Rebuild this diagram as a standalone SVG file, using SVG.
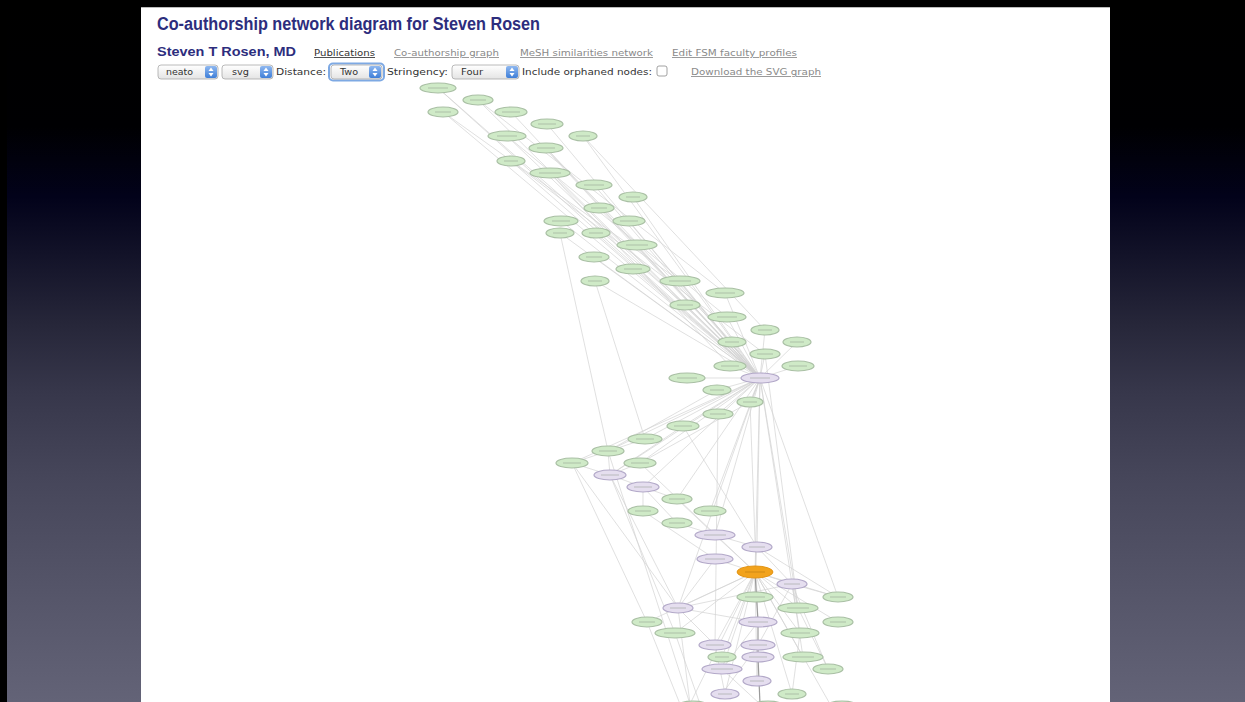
<svg xmlns="http://www.w3.org/2000/svg" width="1245" height="702" viewBox="0 0 1245 702">
<defs>
<linearGradient id="bg" x1="0" y1="0" x2="0" y2="1">
<stop offset="0" stop-color="#000000"/>
<stop offset="0.18" stop-color="#000002"/>
<stop offset="0.28" stop-color="#02021a"/>
<stop offset="0.36" stop-color="#121228"/>
<stop offset="0.46" stop-color="#262639"/>
<stop offset="0.56" stop-color="#37374b"/>
<stop offset="0.68" stop-color="#46465a"/>
<stop offset="0.82" stop-color="#535367"/>
<stop offset="1" stop-color="#636377"/>
</linearGradient>
<linearGradient id="sel" x1="0" y1="0" x2="0" y2="1">
<stop offset="0" stop-color="#ffffff"/>
<stop offset="1" stop-color="#e4e4e4"/>
</linearGradient>
<linearGradient id="step" x1="0" y1="0" x2="0" y2="1">
<stop offset="0" stop-color="#8fb8f0"/>
<stop offset="1" stop-color="#3f7fd8"/>
</linearGradient>
</defs>
<style>
.ttl{font-family:"Liberation Sans",Arial,sans-serif;font-weight:bold;fill:#2d2d7d}
.lnk{font-family:"DejaVu Sans",Verdana,sans-serif;font-size:8.5px;text-decoration:underline}
.ctl{font-family:"DejaVu Sans",Verdana,sans-serif;font-size:8.5px;fill:#333}
.box{fill:url(#sel);stroke:#a8a8a8;stroke-width:0.8}
.stp{fill:url(#step)}
.arw{fill:#ffffff}
.g ellipse{fill:#cfeac7;stroke:#a9bfa4;stroke-width:1.2}
.p ellipse{fill:#e5deef;stroke:#b2a8c8;stroke-width:1.2}
.o ellipse{fill:#f2a31c;stroke:#e39414;stroke-width:1}
.lb{stroke:#8f9a8c;stroke-width:1;opacity:0.5}
#edges line{stroke:#d2d2d2;stroke-width:0.7}
#edges line.dk{stroke:#9a9a9a;stroke-width:1.2}
</style>
<rect x="0" y="0" width="1245" height="702" fill="url(#bg)"/>
<rect x="0" y="0" width="7" height="702" fill="#000"/>
<rect x="0" y="0" width="1245" height="7" fill="#000"/>
<rect x="141" y="7" width="969" height="695" fill="#ffffff"/>
<line x1="141" y1="7.5" x2="1110" y2="7.5" stroke="#bbbbbb" stroke-width="1"/>

<g id="header">
<text class="ttl" x="157" y="30" font-size="17.5" textLength="383" lengthAdjust="spacingAndGlyphs">Co-authorship network diagram for Steven Rosen</text>
<text class="ttl" x="157" y="56" font-size="12.5" textLength="139" lengthAdjust="spacingAndGlyphs">Steven T Rosen, MD</text>
<text class="lnk" x="314" y="56" fill="#333" textLength="61" lengthAdjust="spacingAndGlyphs">Publications</text>
<text class="lnk" x="394" y="56" fill="#8a8a8a" textLength="105" lengthAdjust="spacingAndGlyphs">Co-authorship graph</text>
<text class="lnk" x="520" y="56" fill="#8a8a8a" textLength="133" lengthAdjust="spacingAndGlyphs">MeSH similarities network</text>
<text class="lnk" x="672" y="56" fill="#8a8a8a" textLength="125" lengthAdjust="spacingAndGlyphs">Edit FSM faculty profiles</text>
</g>

<g id="controls">
<rect class="box" x="158" y="65" width="60" height="14" rx="3"/>
<rect class="stp" x="205" y="66" width="12" height="12" rx="2"/>
<polygon class="arw" points="211,67.5 208.5,71 213.5,71"/><polygon class="arw" points="211,76.5 208.5,73 213.5,73"/>
<text class="ctl" x="166" y="75" textLength="27" lengthAdjust="spacingAndGlyphs">neato</text>
<rect class="box" x="222" y="65" width="51" height="14" rx="3"/>
<rect class="stp" x="260" y="66" width="12" height="12" rx="2"/>
<polygon class="arw" points="266,67.5 263.5,71 268.5,71"/><polygon class="arw" points="266,76.5 263.5,73 268.5,73"/>
<text class="ctl" x="232" y="75" textLength="17" lengthAdjust="spacingAndGlyphs">svg</text>
<text class="ctl" x="276" y="75" textLength="50" lengthAdjust="spacingAndGlyphs">Distance:</text>
<rect x="329" y="63.5" width="55" height="17" rx="4" fill="none" stroke="#7ea9e3" stroke-width="2"/>
<rect class="box" x="331" y="65" width="51" height="14" rx="3"/>
<rect class="stp" x="369" y="66" width="12" height="12" rx="2"/>
<polygon class="arw" points="375,67.5 372.5,71 377.5,71"/><polygon class="arw" points="375,76.5 372.5,73 377.5,73"/>
<text class="ctl" x="340" y="75" textLength="18" lengthAdjust="spacingAndGlyphs">Two</text>
<text class="ctl" x="387" y="75" textLength="61" lengthAdjust="spacingAndGlyphs">Stringency:</text>
<rect class="box" x="452" y="65" width="67" height="14" rx="3"/>
<rect class="stp" x="506" y="66" width="12" height="12" rx="2"/>
<polygon class="arw" points="512,67.5 509.5,71 514.5,71"/><polygon class="arw" points="512,76.5 509.5,73 514.5,73"/>
<text class="ctl" x="461" y="75" textLength="22" lengthAdjust="spacingAndGlyphs">Four</text>
<text class="ctl" x="522" y="75" textLength="130" lengthAdjust="spacingAndGlyphs">Include orphaned nodes:</text>
<rect x="657" y="66" width="10" height="10" rx="2" fill="#fff" stroke="#8a8a8a" stroke-width="0.8"/>
<text class="lnk" x="691" y="75" fill="#8a8a8a" textLength="130" lengthAdjust="spacingAndGlyphs">Download the SVG graph</text>
</g>

<g id="edges">
<line x1="438" y1="88" x2="760" y2="378"/><line x1="478" y1="100" x2="760" y2="378"/>
<line x1="443" y1="112" x2="760" y2="378"/><line x1="511" y1="112" x2="760" y2="378"/>
<line x1="547" y1="124" x2="760" y2="378"/><line x1="507" y1="136" x2="760" y2="378"/>
<line x1="583" y1="136" x2="760" y2="378"/><line x1="546" y1="148" x2="760" y2="378"/>
<line x1="511" y1="161" x2="760" y2="378"/><line x1="550" y1="173" x2="760" y2="378"/>
<line x1="594" y1="185" x2="760" y2="378"/><line x1="633" y1="197" x2="760" y2="378"/>
<line x1="599" y1="208" x2="760" y2="378"/><line x1="561" y1="221" x2="760" y2="378"/>
<line x1="629" y1="221" x2="760" y2="378"/><line x1="560" y1="233" x2="760" y2="378"/>
<line x1="596" y1="233" x2="760" y2="378"/><line x1="637" y1="245" x2="760" y2="378"/>
<line x1="594" y1="257" x2="760" y2="378"/><line x1="633" y1="269" x2="760" y2="378"/>
<line x1="595" y1="281" x2="760" y2="378"/><line x1="680" y1="281" x2="760" y2="378"/>
<line x1="725" y1="293" x2="760" y2="378"/><line x1="685" y1="305" x2="760" y2="378"/>
<line x1="727" y1="317" x2="760" y2="378"/><line x1="765" y1="330" x2="760" y2="378"/>
<line x1="797" y1="342" x2="760" y2="378"/><line x1="732" y1="342" x2="760" y2="378"/>
<line x1="765" y1="354" x2="760" y2="378"/><line x1="730" y1="366" x2="760" y2="378"/>
<line x1="798" y1="366" x2="760" y2="378"/>
<line x1="438" y1="88" x2="685" y2="305"/><line x1="443" y1="112" x2="680" y2="281"/>
<line x1="478" y1="100" x2="725" y2="293"/><line x1="507" y1="136" x2="727" y2="317"/>
<line x1="511" y1="161" x2="765" y2="354"/><line x1="546" y1="148" x2="732" y2="342"/>
<line x1="583" y1="136" x2="765" y2="330"/><line x1="550" y1="173" x2="730" y2="366"/>
<line x1="560" y1="233" x2="608" y2="451"/><line x1="595" y1="281" x2="645" y2="439"/>
<line x1="760" y1="378" x2="687" y2="378"/><line x1="760" y1="378" x2="717" y2="390"/>
<line x1="760" y1="378" x2="750" y2="402"/><line x1="760" y1="378" x2="718" y2="414"/>
<line x1="760" y1="378" x2="683" y2="426"/><line x1="760" y1="378" x2="645" y2="439"/>
<line x1="760" y1="378" x2="608" y2="451"/><line x1="760" y1="378" x2="572" y2="463"/>
<line x1="760" y1="378" x2="640" y2="463"/><line x1="760" y1="378" x2="610" y2="475"/>
<line x1="760" y1="378" x2="643" y2="487"/><line x1="760" y1="378" x2="677" y2="499"/>
<line x1="760" y1="378" x2="710" y2="511"/><line x1="760" y1="378" x2="715" y2="535"/>
<line x1="760" y1="378" x2="757" y2="547"/><line x1="760" y1="378" x2="755" y2="572"/>
<line x1="760" y1="378" x2="792" y2="584"/><line x1="760" y1="378" x2="798" y2="608"/>
<line x1="760" y1="378" x2="678" y2="608"/><line x1="760" y1="378" x2="838" y2="597"/>
<line x1="750" y1="402" x2="758" y2="622"/><line x1="718" y1="414" x2="715" y2="645"/>
<line x1="765" y1="354" x2="798" y2="608"/><line x1="683" y1="426" x2="757" y2="547"/>
<line x1="608" y1="451" x2="610" y2="475"/><line x1="572" y1="463" x2="610" y2="475"/>
<line x1="640" y1="463" x2="610" y2="475"/><line x1="610" y1="475" x2="643" y2="487"/>
<line x1="643" y1="487" x2="677" y2="499"/><line x1="643" y1="487" x2="643" y2="511"/>
<line x1="643" y1="487" x2="677" y2="523"/><line x1="677" y1="523" x2="715" y2="535"/>
<line x1="715" y1="535" x2="757" y2="547"/><line x1="757" y1="547" x2="755" y2="572"/>
<line x1="715" y1="559" x2="755" y2="572"/><line x1="715" y1="535" x2="755" y2="572"/>
<line x1="643" y1="511" x2="715" y2="559"/><line x1="610" y1="475" x2="678" y2="608"/>
<line x1="572" y1="463" x2="678" y2="608"/><line x1="572" y1="463" x2="647" y2="622"/>
<line x1="610" y1="475" x2="675" y2="633"/><line x1="608" y1="451" x2="690" y2="704"/>
<line x1="645" y1="439" x2="572" y2="463"/><line x1="683" y1="426" x2="610" y2="475"/>
<line x1="717" y1="390" x2="608" y2="451"/><line x1="750" y1="402" x2="640" y2="463"/>
<line x1="640" y1="463" x2="755" y2="572"/><line x1="677" y1="499" x2="715" y2="535"/>
<line x1="755" y1="572" x2="792" y2="584"/><line x1="755" y1="572" x2="755" y2="597"/>
<line x1="755" y1="572" x2="838" y2="597"/><line x1="755" y1="572" x2="678" y2="608"/>
<line x1="755" y1="572" x2="798" y2="608"/><line x1="755" y1="572" x2="838" y2="622"/>
<line x1="755" y1="572" x2="675" y2="633"/><line x1="755" y1="572" x2="800" y2="633"/>
<line x1="755" y1="572" x2="715" y2="645"/><line x1="755" y1="572" x2="722" y2="657"/>
<line x1="755" y1="572" x2="803" y2="657"/><line x1="755" y1="572" x2="722" y2="669"/>
<line x1="755" y1="572" x2="725" y2="694"/><line x1="755" y1="572" x2="792" y2="694"/>
<line x1="755" y1="572" x2="690" y2="704"/><line x1="755" y1="572" x2="830" y2="704"/>
<line x1="755" y1="572" x2="647" y2="622"/><line x1="755" y1="572" x2="757" y2="681"/>
<line x1="792" y1="584" x2="798" y2="608"/><line x1="792" y1="584" x2="800" y2="633"/>
<line x1="792" y1="584" x2="758" y2="645"/><line x1="792" y1="584" x2="838" y2="597"/>
<line x1="792" y1="584" x2="803" y2="657"/><line x1="792" y1="584" x2="828" y2="669"/>
<line x1="678" y1="608" x2="792" y2="584"/><line x1="678" y1="608" x2="758" y2="622"/>
<line x1="678" y1="608" x2="715" y2="645"/><line x1="678" y1="608" x2="690" y2="704"/>
<line x1="758" y1="657" x2="757" y2="681"/><line x1="758" y1="622" x2="722" y2="669"/>
<line x1="715" y1="645" x2="725" y2="694"/><line x1="722" y1="669" x2="760" y2="704"/>
<line x1="800" y1="633" x2="792" y2="694"/><line x1="798" y1="608" x2="828" y2="669"/>
<line x1="757" y1="547" x2="838" y2="597"/><line x1="757" y1="547" x2="792" y2="584"/>
<line x1="715" y1="559" x2="678" y2="608"/><line x1="758" y1="645" x2="722" y2="694"/>
<line x1="675" y1="633" x2="700" y2="704"/><line x1="647" y1="622" x2="680" y2="704"/>
<line class="dk" x1="755" y1="572" x2="758" y2="622"/><line class="dk" x1="758" y1="622" x2="758" y2="657"/>
<line class="dk" x1="758" y1="657" x2="760" y2="704"/>
</g>

<g id="nodes">
<g id="n1" class="g"><ellipse cx="438" cy="88" rx="18" ry="5"/><line class="lb" x1="428" y1="88" x2="448" y2="88"/></g>
<g id="n2" class="g"><ellipse cx="478" cy="100" rx="15" ry="5"/><line class="lb" x1="470" y1="100" x2="486" y2="100"/></g>
<g id="n3" class="g"><ellipse cx="443" cy="112" rx="15" ry="5"/><line class="lb" x1="435" y1="112" x2="451" y2="112"/></g>
<g id="n4" class="g"><ellipse cx="511" cy="112" rx="16" ry="5"/><line class="lb" x1="502" y1="112" x2="520" y2="112"/></g>
<g id="n5" class="g"><ellipse cx="547" cy="124" rx="16" ry="5"/><line class="lb" x1="538" y1="124" x2="556" y2="124"/></g>
<g id="n6" class="g"><ellipse cx="507" cy="136" rx="19" ry="5"/><line class="lb" x1="497" y1="136" x2="517" y2="136"/></g>
<g id="n7" class="g"><ellipse cx="583" cy="136" rx="14" ry="5"/><line class="lb" x1="576" y1="136" x2="590" y2="136"/></g>
<g id="n8" class="g"><ellipse cx="546" cy="148" rx="17" ry="5"/><line class="lb" x1="537" y1="148" x2="555" y2="148"/></g>
<g id="n9" class="g"><ellipse cx="511" cy="161" rx="14" ry="5"/><line class="lb" x1="504" y1="161" x2="518" y2="161"/></g>
<g id="n10" class="g"><ellipse cx="550" cy="173" rx="20" ry="5"/><line class="lb" x1="539" y1="173" x2="561" y2="173"/></g>
<g id="n11" class="g"><ellipse cx="594" cy="185" rx="18" ry="5"/><line class="lb" x1="584" y1="185" x2="604" y2="185"/></g>
<g id="n12" class="g"><ellipse cx="633" cy="197" rx="14" ry="5"/><line class="lb" x1="626" y1="197" x2="640" y2="197"/></g>
<g id="n13" class="g"><ellipse cx="599" cy="208" rx="15" ry="5"/><line class="lb" x1="591" y1="208" x2="607" y2="208"/></g>
<g id="n14" class="g"><ellipse cx="561" cy="221" rx="17" ry="5"/><line class="lb" x1="552" y1="221" x2="570" y2="221"/></g>
<g id="n15" class="g"><ellipse cx="629" cy="221" rx="16" ry="5"/><line class="lb" x1="620" y1="221" x2="638" y2="221"/></g>
<g id="n16" class="g"><ellipse cx="560" cy="233" rx="14" ry="5"/><line class="lb" x1="553" y1="233" x2="567" y2="233"/></g>
<g id="n17" class="g"><ellipse cx="596" cy="233" rx="14" ry="5"/><line class="lb" x1="589" y1="233" x2="603" y2="233"/></g>
<g id="n18" class="g"><ellipse cx="637" cy="245" rx="20" ry="5"/><line class="lb" x1="626" y1="245" x2="648" y2="245"/></g>
<g id="n19" class="g"><ellipse cx="594" cy="257" rx="15" ry="5"/><line class="lb" x1="586" y1="257" x2="602" y2="257"/></g>
<g id="n20" class="g"><ellipse cx="633" cy="269" rx="17" ry="5"/><line class="lb" x1="624" y1="269" x2="642" y2="269"/></g>
<g id="n21" class="g"><ellipse cx="595" cy="281" rx="14" ry="5"/><line class="lb" x1="588" y1="281" x2="602" y2="281"/></g>
<g id="n22" class="g"><ellipse cx="680" cy="281" rx="20" ry="5"/><line class="lb" x1="669" y1="281" x2="691" y2="281"/></g>
<g id="n23" class="g"><ellipse cx="725" cy="293" rx="19" ry="5"/><line class="lb" x1="715" y1="293" x2="735" y2="293"/></g>
<g id="n24" class="g"><ellipse cx="685" cy="305" rx="15" ry="5"/><line class="lb" x1="677" y1="305" x2="693" y2="305"/></g>
<g id="n25" class="g"><ellipse cx="727" cy="317" rx="19" ry="5"/><line class="lb" x1="717" y1="317" x2="737" y2="317"/></g>
<g id="n26" class="g"><ellipse cx="765" cy="330" rx="14" ry="5"/><line class="lb" x1="758" y1="330" x2="772" y2="330"/></g>
<g id="n27" class="g"><ellipse cx="797" cy="342" rx="14" ry="5"/><line class="lb" x1="790" y1="342" x2="804" y2="342"/></g>
<g id="n28" class="g"><ellipse cx="732" cy="342" rx="14" ry="5"/><line class="lb" x1="725" y1="342" x2="739" y2="342"/></g>
<g id="n29" class="g"><ellipse cx="765" cy="354" rx="15" ry="5"/><line class="lb" x1="757" y1="354" x2="773" y2="354"/></g>
<g id="n30" class="g"><ellipse cx="730" cy="366" rx="16" ry="5"/><line class="lb" x1="721" y1="366" x2="739" y2="366"/></g>
<g id="n31" class="g"><ellipse cx="798" cy="366" rx="16" ry="5"/><line class="lb" x1="789" y1="366" x2="807" y2="366"/></g>
<g id="p1" class="p"><ellipse cx="760" cy="378" rx="19" ry="5"/><line class="lb" x1="750" y1="378" x2="770" y2="378"/></g>
<g id="n32" class="g"><ellipse cx="687" cy="378" rx="18" ry="5"/><line class="lb" x1="677" y1="378" x2="697" y2="378"/></g>
<g id="n33" class="g"><ellipse cx="717" cy="390" rx="14" ry="5"/><line class="lb" x1="710" y1="390" x2="724" y2="390"/></g>
<g id="n34" class="g"><ellipse cx="750" cy="402" rx="13" ry="5"/><line class="lb" x1="743" y1="402" x2="757" y2="402"/></g>
<g id="n35" class="g"><ellipse cx="718" cy="414" rx="15" ry="5"/><line class="lb" x1="710" y1="414" x2="726" y2="414"/></g>
<g id="n36" class="g"><ellipse cx="683" cy="426" rx="16" ry="5"/><line class="lb" x1="674" y1="426" x2="692" y2="426"/></g>
<g id="n37" class="g"><ellipse cx="645" cy="439" rx="17" ry="5"/><line class="lb" x1="636" y1="439" x2="654" y2="439"/></g>
<g id="n38" class="g"><ellipse cx="608" cy="451" rx="16" ry="5"/><line class="lb" x1="599" y1="451" x2="617" y2="451"/></g>
<g id="n39" class="g"><ellipse cx="572" cy="463" rx="16" ry="5"/><line class="lb" x1="563" y1="463" x2="581" y2="463"/></g>
<g id="n40" class="g"><ellipse cx="640" cy="463" rx="16" ry="5"/><line class="lb" x1="631" y1="463" x2="649" y2="463"/></g>
<g id="p2" class="p"><ellipse cx="610" cy="475" rx="16" ry="5"/><line class="lb" x1="601" y1="475" x2="619" y2="475"/></g>
<g id="p3" class="p"><ellipse cx="643" cy="487" rx="16" ry="5"/><line class="lb" x1="634" y1="487" x2="652" y2="487"/></g>
<g id="n41" class="g"><ellipse cx="677" cy="499" rx="15" ry="5"/><line class="lb" x1="669" y1="499" x2="685" y2="499"/></g>
<g id="n42" class="g"><ellipse cx="643" cy="511" rx="15" ry="5"/><line class="lb" x1="635" y1="511" x2="651" y2="511"/></g>
<g id="n43" class="g"><ellipse cx="710" cy="511" rx="16" ry="5"/><line class="lb" x1="701" y1="511" x2="719" y2="511"/></g>
<g id="n44" class="g"><ellipse cx="677" cy="523" rx="15" ry="5"/><line class="lb" x1="669" y1="523" x2="685" y2="523"/></g>
<g id="p4" class="p"><ellipse cx="715" cy="535" rx="20" ry="5"/><line class="lb" x1="704" y1="535" x2="726" y2="535"/></g>
<g id="p5" class="p"><ellipse cx="757" cy="547" rx="15" ry="5"/><line class="lb" x1="749" y1="547" x2="765" y2="547"/></g>
<g id="p6" class="p"><ellipse cx="715" cy="559" rx="18" ry="5"/><line class="lb" x1="705" y1="559" x2="725" y2="559"/></g>
<g id="focus" class="o"><ellipse cx="755" cy="572" rx="18" ry="6"/><line x1="745" y1="572" x2="765" y2="572" stroke="#b87a10" stroke-width="1" opacity="0.6"/></g>
<g id="p7" class="p"><ellipse cx="792" cy="584" rx="15" ry="5"/><line class="lb" x1="784" y1="584" x2="800" y2="584"/></g>
<g id="n45" class="g"><ellipse cx="755" cy="597" rx="18" ry="5"/><line class="lb" x1="745" y1="597" x2="765" y2="597"/></g>
<g id="n46" class="g"><ellipse cx="838" cy="597" rx="15" ry="5"/><line class="lb" x1="830" y1="597" x2="846" y2="597"/></g>
<g id="p8" class="p"><ellipse cx="678" cy="608" rx="15" ry="5"/><line class="lb" x1="670" y1="608" x2="686" y2="608"/></g>
<g id="n47" class="g"><ellipse cx="798" cy="608" rx="20" ry="5"/><line class="lb" x1="787" y1="608" x2="809" y2="608"/></g>
<g id="n48" class="g"><ellipse cx="647" cy="622" rx="15" ry="5"/><line class="lb" x1="639" y1="622" x2="655" y2="622"/></g>
<g id="p9" class="p"><ellipse cx="758" cy="622" rx="19" ry="5"/><line class="lb" x1="748" y1="622" x2="768" y2="622"/></g>
<g id="n49" class="g"><ellipse cx="838" cy="622" rx="15" ry="5"/><line class="lb" x1="830" y1="622" x2="846" y2="622"/></g>
<g id="n50" class="g"><ellipse cx="675" cy="633" rx="20" ry="5"/><line class="lb" x1="664" y1="633" x2="686" y2="633"/></g>
<g id="n51" class="g"><ellipse cx="800" cy="633" rx="19" ry="5"/><line class="lb" x1="790" y1="633" x2="810" y2="633"/></g>
<g id="p10" class="p"><ellipse cx="715" cy="645" rx="16" ry="5"/><line class="lb" x1="706" y1="645" x2="724" y2="645"/></g>
<g id="p11" class="p"><ellipse cx="758" cy="645" rx="17" ry="5"/><line class="lb" x1="749" y1="645" x2="767" y2="645"/></g>
<g id="n52" class="g"><ellipse cx="722" cy="657" rx="14" ry="5"/><line class="lb" x1="715" y1="657" x2="729" y2="657"/></g>
<g id="p12" class="p"><ellipse cx="758" cy="657" rx="16" ry="5"/><line class="lb" x1="749" y1="657" x2="767" y2="657"/></g>
<g id="n53" class="g"><ellipse cx="803" cy="657" rx="20" ry="5"/><line class="lb" x1="792" y1="657" x2="814" y2="657"/></g>
<g id="p13" class="p"><ellipse cx="722" cy="669" rx="20" ry="5"/><line class="lb" x1="711" y1="669" x2="733" y2="669"/></g>
<g id="n54" class="g"><ellipse cx="828" cy="669" rx="15" ry="5"/><line class="lb" x1="820" y1="669" x2="836" y2="669"/></g>
<g id="p14" class="p"><ellipse cx="757" cy="681" rx="14" ry="5"/><line class="lb" x1="750" y1="681" x2="764" y2="681"/></g>
<g id="p15" class="p"><ellipse cx="725" cy="694" rx="14" ry="5"/><line class="lb" x1="718" y1="694" x2="732" y2="694"/></g>
<g id="n55" class="g"><ellipse cx="792" cy="694" rx="14" ry="5"/><line class="lb" x1="785" y1="694" x2="799" y2="694"/></g>
<g id="b1" class="g"><ellipse cx="693" cy="706" rx="16" ry="5"/></g>
<g id="b2" class="g"><ellipse cx="768" cy="706" rx="16" ry="5"/></g>
<g id="b3" class="g"><ellipse cx="842" cy="706" rx="16" ry="5"/></g>
</g>
</svg>
